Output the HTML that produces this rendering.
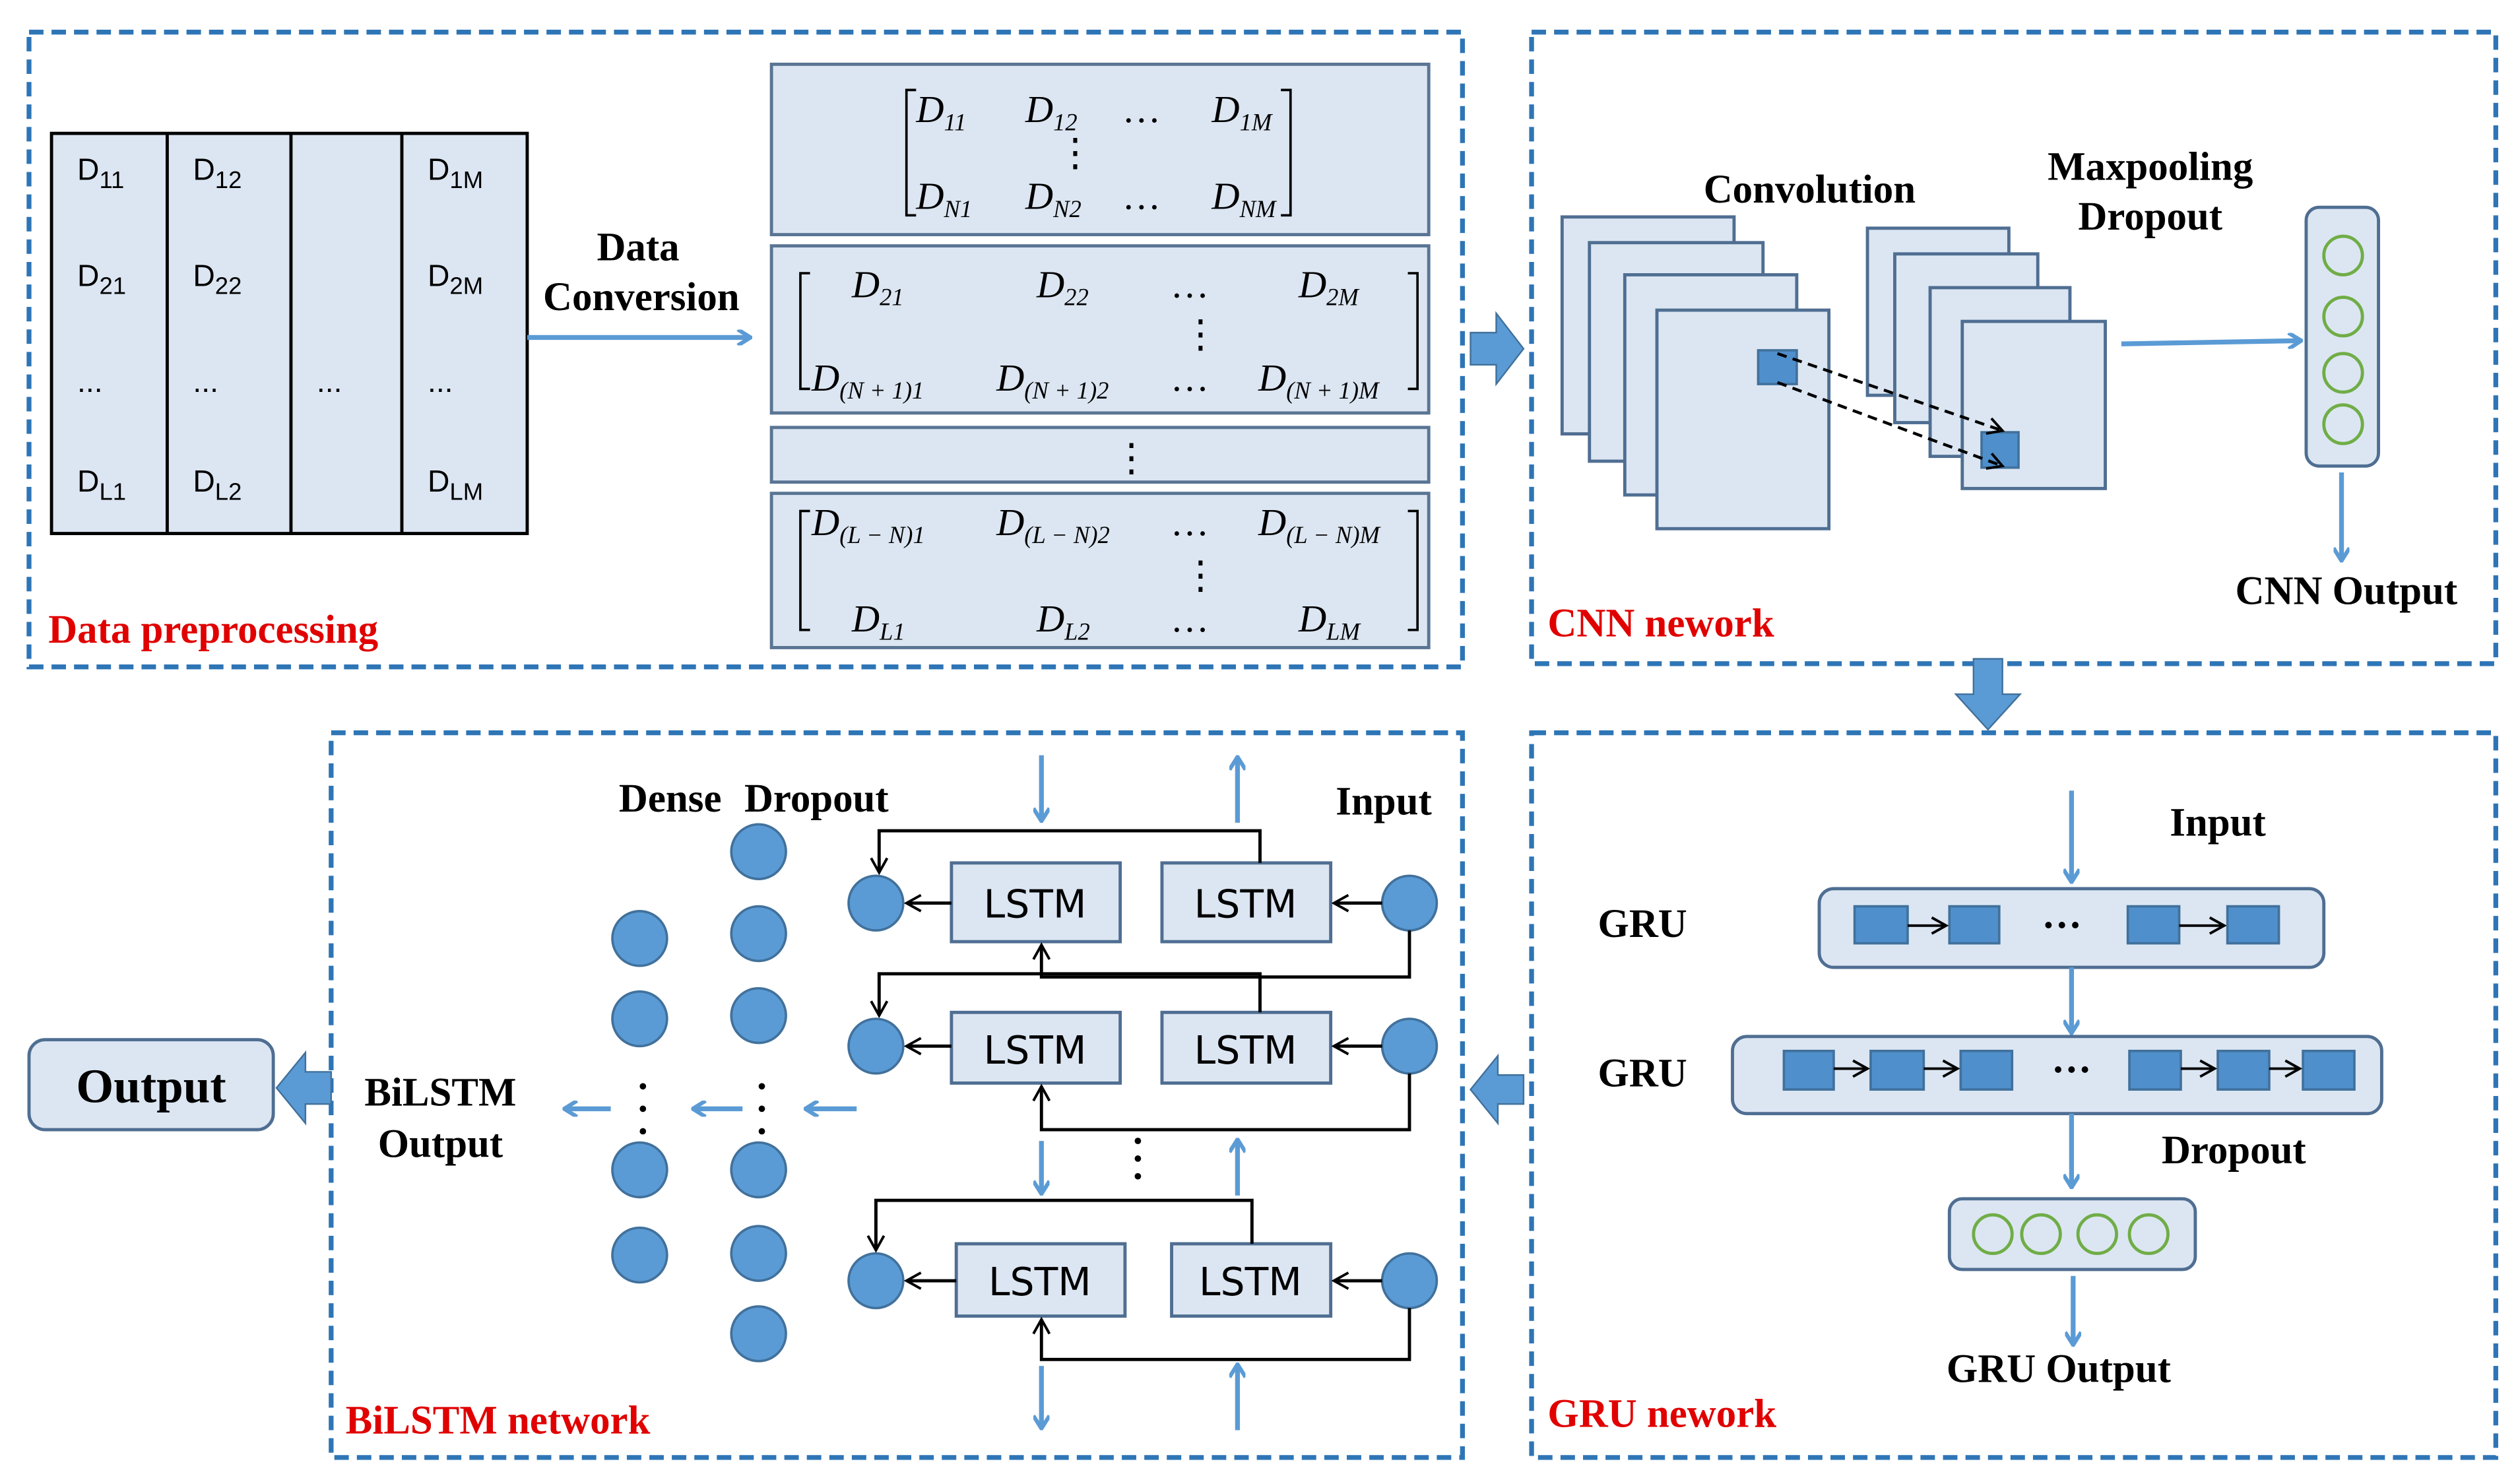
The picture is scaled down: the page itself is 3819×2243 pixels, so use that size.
<!DOCTYPE html>
<html><head><meta charset="utf-8"><style>
html,body{margin:0;padding:0;background:#fff;}
svg{display:block;}
.lb{font-family:"Liberation Serif",serif;font-weight:bold;font-size:25px;fill:#000;}
.red{font-family:"Liberation Serif",serif;font-weight:bold;font-size:25px;fill:#E00000;}
.mx{font-family:"Liberation Serif",serif;font-style:italic;font-size:24px;fill:#000;}
.vd{font-style:normal;}
.sb{font-size:15px;}
.tb{font-family:"Liberation Sans",sans-serif;font-size:19px;fill:#000;}
.ls{font-family:"DejaVu Sans","Liberation Sans",sans-serif;font-size:24px;fill:#000;}
</style></head><body>
<svg width="3819" height="2243" viewBox="0 0 1568 921" xmlns="http://www.w3.org/2000/svg">
<defs>
<marker id="ab" markerWidth="10" markerHeight="10" refX="8" refY="5" orient="auto" markerUnits="userSpaceOnUse"><path d="M1,0 L9,5 L1,10" fill="none" stroke="#5B9BD5" stroke-width="2.5"/></marker>
<marker id="ak" markerWidth="12" markerHeight="12" refX="10" refY="6" orient="auto" markerUnits="userSpaceOnUse"><path d="M1,1 L10,6 L1,11" fill="none" stroke="#000" stroke-width="1.6"/></marker>
</defs>
<rect width="1568" height="921" fill="#fff"/>
<g fill="none" stroke="#2E75B6" stroke-width="3" stroke-dasharray="9,5">
<rect x="18" y="20" width="892" height="395"/>
<rect x="953" y="20" width="600" height="393"/>
<rect x="206" y="456" width="704" height="451"/>
<rect x="953" y="456" width="600" height="451"/>
</g>
<!-- table -->
<rect x="32" y="83" width="296" height="249" fill="#DCE6F2" stroke="#000" stroke-width="2"/>
<g stroke="#000" stroke-width="2"><line x1="104" y1="83" x2="104" y2="332"/><line x1="181" y1="83" x2="181" y2="332"/><line x1="250" y1="83" x2="250" y2="332"/></g>
<g class="tb">
<text x="48" y="112">D<tspan class="sb" dy="5">11</tspan></text><text x="120" y="112">D<tspan class="sb" dy="5">12</tspan></text><text x="266" y="112">D<tspan class="sb" dy="5">1M</tspan></text>
<text x="48" y="178">D<tspan class="sb" dy="5">21</tspan></text><text x="120" y="178">D<tspan class="sb" dy="5">22</tspan></text><text x="266" y="178">D<tspan class="sb" dy="5">2M</tspan></text>
<text x="48" y="244">...</text><text x="120" y="244">...</text><text x="197" y="244">...</text><text x="266" y="244">...</text>
<text x="48" y="306">D<tspan class="sb" dy="5">L1</tspan></text><text x="120" y="306">D<tspan class="sb" dy="5">L2</tspan></text><text x="266" y="306">D<tspan class="sb" dy="5">LM</tspan></text>
</g>
<line x1="328" y1="210" x2="466" y2="210" stroke="#5B9BD5" stroke-width="3" marker-end="url(#ab)"/>
<text class="lb" x="397" y="162" text-anchor="middle">Data</text>
<text class="lb" x="399" y="193" text-anchor="middle">Conversion</text>
<!-- matrices -->
<g fill="#DCE6F2" stroke="#5A7594" stroke-width="2">
<rect x="480" y="40" width="409" height="106"/><rect x="480" y="153" width="409" height="104"/>
<rect x="480" y="266" width="409" height="34"/><rect x="480" y="307" width="409" height="96"/>
</g>
<g fill="none" stroke="#000" stroke-width="1.5">
<path d="M570,56 h-6 v78 h6"/><path d="M797,56 h6 v78 h-6"/>
<path d="M504,170 h-6 v72 h6"/><path d="M876,170 h6 v72 h-6"/>
<path d="M504,318 h-6 v74 h6"/><path d="M876,318 h6 v74 h-6"/>
</g>
<g class="mx">
<text x="570" y="76">D<tspan class="sb" dy="5">11</tspan></text><text x="638" y="76">D<tspan class="sb" dy="5">12</tspan></text><text x="700" y="76">…</text><text x="754" y="76">D<tspan class="sb" dy="5">1M</tspan></text>
<text class="vd" x="657" y="103">⋮</text>
<text x="570" y="130">D<tspan class="sb" dy="5">N1</tspan></text><text x="638" y="130">D<tspan class="sb" dy="5">N2</tspan></text><text x="700" y="130">…</text><text x="754" y="130">D<tspan class="sb" dy="5">NM</tspan></text>
<text x="530" y="185">D<tspan class="sb" dy="5">21</tspan></text><text x="645" y="185">D<tspan class="sb" dy="5">22</tspan></text><text x="730" y="185">…</text><text x="808" y="185">D<tspan class="sb" dy="5">2M</tspan></text>
<text class="vd" x="735" y="216">⋮</text>
<text x="505" y="243">D<tspan class="sb" dy="5">(N + 1)1</tspan></text><text x="620" y="243">D<tspan class="sb" dy="5">(N + 1)2</tspan></text><text x="730" y="243">…</text><text x="783" y="243">D<tspan class="sb" dy="5">(N + 1)M</tspan></text>
<text class="vd" x="692" y="293">⋮</text>
<text x="505" y="333">D<tspan class="sb" dy="5">(L − N)1</tspan></text><text x="620" y="333">D<tspan class="sb" dy="5">(L − N)2</tspan></text><text x="730" y="333">…</text><text x="783" y="333">D<tspan class="sb" dy="5">(L − N)M</tspan></text>
<text class="vd" x="735" y="366">⋮</text>
<text x="530" y="393">D<tspan class="sb" dy="5">L1</tspan></text><text x="645" y="393">D<tspan class="sb" dy="5">L2</tspan></text><text x="730" y="393">…</text><text x="808" y="393">D<tspan class="sb" dy="5">LM</tspan></text>
</g>
<text class="red" x="30" y="400">Data preprocessing</text>
<!-- block arrows -->
<g fill="#5B9BD5" stroke="#41719C" stroke-width="1">
<path d="M915,207 h16 v-12 l17,22 l-17,22 v-12 h-16 z"/>
<path d="M1228,410 h18 v22 h11 l-20,22 l-20,-22 h11 z"/>
<path d="M948,669 h-16 v-12 l-17,21 l17,21 v-12 h16 z"/>
<path d="M206,667 h-16 v-12 l-18,22 l18,22 v-12 h16 z"/>
</g>
<!-- CNN -->
<g fill="#DCE6F2" stroke="#4F6E92" stroke-width="2">
<rect x="972" y="135" width="107" height="135"/><rect x="989" y="151" width="108" height="136"/>
<rect x="1011" y="171" width="107" height="137"/><rect x="1031" y="193" width="107" height="136"/>
<rect x="1162" y="142" width="88" height="104"/><rect x="1179" y="158" width="89" height="105"/>
<rect x="1201" y="179" width="87" height="105"/><rect x="1221" y="200" width="89" height="104"/>
</g>
<rect x="1094" y="218" width="24" height="21" fill="#4F8FCC" stroke="#41719C" stroke-width="1.5"/>
<rect x="1233" y="269" width="23" height="22" fill="#4F8FCC" stroke="#41719C" stroke-width="1.5"/>
<g stroke="#000" stroke-width="1.8" stroke-dasharray="6,4" fill="none">
<line x1="1106" y1="220" x2="1246" y2="268" marker-end="url(#ak)"/>
<line x1="1106" y1="238" x2="1246" y2="290" marker-end="url(#ak)"/>
</g>
<line x1="1320" y1="214" x2="1431" y2="212" stroke="#5B9BD5" stroke-width="3" marker-end="url(#ab)"/>
<rect x="1435" y="129" width="45" height="161" rx="8" fill="#DCE6F2" stroke="#4F6E92" stroke-width="2"/>
<g fill="none" stroke="#70AD47" stroke-width="2"><circle cx="1458" cy="159" r="12"/><circle cx="1458" cy="197" r="12"/><circle cx="1458" cy="232" r="12"/><circle cx="1458" cy="264" r="12"/></g>
<line x1="1457" y1="294" x2="1457" y2="348" stroke="#5B9BD5" stroke-width="3" marker-end="url(#ab)"/>
<text class="lb" x="1126" y="126" text-anchor="middle">Convolution</text>
<text class="lb" x="1338" y="112" text-anchor="middle">Maxpooling</text>
<text class="lb" x="1338" y="143" text-anchor="middle">Dropout</text>
<text class="lb" x="1460" y="376" text-anchor="middle">CNN Output</text>
<text class="red" x="963" y="396">CNN nework</text>
<!-- GRU -->
<line x1="1289" y1="492" x2="1289" y2="548" stroke="#5B9BD5" stroke-width="3" marker-end="url(#ab)"/>
<rect x="1132" y="553" width="314" height="49" rx="9" fill="#DCE6F2" stroke="#4F6E92" stroke-width="2"/>
<g fill="#4F8FCC" stroke="#41719C" stroke-width="1.5">
<rect x="1154" y="564" width="33" height="23"/><rect x="1213" y="564" width="31" height="23"/>
<rect x="1324" y="564" width="32" height="23"/><rect x="1386" y="564" width="32" height="23"/>
</g>
<g stroke="#000" stroke-width="1.6"><line x1="1187" y1="576" x2="1211" y2="576" marker-end="url(#ak)"/><line x1="1356" y1="576" x2="1384" y2="576" marker-end="url(#ak)"/></g>
<text class="lb" x="1283" y="584" text-anchor="middle">···</text>
<line x1="1289" y1="602" x2="1289" y2="642" stroke="#5B9BD5" stroke-width="3" marker-end="url(#ab)"/>
<rect x="1078" y="645" width="404" height="48" rx="9" fill="#DCE6F2" stroke="#4F6E92" stroke-width="2"/>
<g fill="#4F8FCC" stroke="#41719C" stroke-width="1.5">
<rect x="1110" y="654" width="31" height="24"/><rect x="1164" y="654" width="33" height="24"/><rect x="1220" y="654" width="32" height="24"/>
<rect x="1325" y="654" width="32" height="24"/><rect x="1380" y="654" width="32" height="24"/><rect x="1433" y="654" width="32" height="24"/>
</g>
<g stroke="#000" stroke-width="1.6"><line x1="1141" y1="665" x2="1162" y2="665" marker-end="url(#ak)"/><line x1="1197" y1="665" x2="1218" y2="665" marker-end="url(#ak)"/><line x1="1357" y1="665" x2="1378" y2="665" marker-end="url(#ak)"/><line x1="1412" y1="665" x2="1431" y2="665" marker-end="url(#ak)"/></g>
<text class="lb" x="1289" y="674" text-anchor="middle">···</text>
<line x1="1289" y1="693" x2="1289" y2="738" stroke="#5B9BD5" stroke-width="3" marker-end="url(#ab)"/>
<rect x="1213" y="746" width="153" height="44" rx="8" fill="#DCE6F2" stroke="#4F6E92" stroke-width="2"/>
<g fill="none" stroke="#70AD47" stroke-width="2"><circle cx="1240" cy="768" r="12"/><circle cx="1270" cy="768" r="12"/><circle cx="1305" cy="768" r="12"/><circle cx="1337" cy="768" r="12"/></g>
<line x1="1290" y1="794" x2="1290" y2="836" stroke="#5B9BD5" stroke-width="3" marker-end="url(#ab)"/>
<text class="lb" x="1380" y="520" text-anchor="middle">Input</text>
<text class="lb" x="1022" y="583" text-anchor="middle">GRU</text>
<text class="lb" x="1022" y="676" text-anchor="middle">GRU</text>
<text class="lb" x="1390" y="724" text-anchor="middle">Dropout</text>
<text class="lb" x="1281" y="860" text-anchor="middle">GRU Output</text>
<text class="red" x="963" y="888">GRU nework</text>
<!-- BiLSTM -->
<rect x="18" y="647" width="152" height="56" rx="10" fill="#DCE6F2" stroke="#4F6E92" stroke-width="2"/>
<text class="lb" x="94" y="686" text-anchor="middle" style="font-size:30px">Output</text>
<text class="lb" x="274" y="688" text-anchor="middle">BiLSTM</text>
<text class="lb" x="274" y="720" text-anchor="middle">Output</text>
<text class="lb" x="417" y="505" text-anchor="middle">Dense</text>
<text class="lb" x="508" y="505" text-anchor="middle">Dropout</text>
<text class="lb" x="861" y="507" text-anchor="middle">Input</text>
<text class="red" x="215" y="892">BiLSTM network</text>
<g stroke="#5B9BD5" stroke-width="3">
<line x1="380" y1="690" x2="352" y2="690" marker-end="url(#ab)"/>
<line x1="462" y1="690" x2="432" y2="690" marker-end="url(#ab)"/>
<line x1="533" y1="690" x2="502" y2="690" marker-end="url(#ab)"/>
<line x1="648" y1="470" x2="648" y2="510" marker-end="url(#ab)"/>
<line x1="770" y1="512" x2="770" y2="472" marker-end="url(#ab)"/>
<line x1="648" y1="710" x2="648" y2="742" marker-end="url(#ab)"/>
<line x1="770" y1="744" x2="770" y2="710" marker-end="url(#ab)"/>
<line x1="648" y1="850" x2="648" y2="888" marker-end="url(#ab)"/>
<line x1="770" y1="890" x2="770" y2="850" marker-end="url(#ab)"/>
</g>
<g fill="#000"><circle cx="400" cy="676" r="2"/><circle cx="400" cy="690" r="2"/><circle cx="400" cy="704" r="2"/>
<circle cx="474" cy="676" r="2"/><circle cx="474" cy="690" r="2"/><circle cx="474" cy="704" r="2"/>
<circle cx="708" cy="710" r="2"/><circle cx="708" cy="721" r="2"/><circle cx="708" cy="732" r="2"/></g>
<g fill="#5B9BD5" stroke="#41719C" stroke-width="1.5">
<ellipse cx="398" cy="584" rx="17" ry="17"/><ellipse cx="398" cy="634" rx="17" ry="17"/><ellipse cx="398" cy="728" rx="17" ry="17"/><ellipse cx="398" cy="781" rx="17" ry="17"/>
<ellipse cx="472" cy="530" rx="17" ry="17"/><ellipse cx="472" cy="581" rx="17" ry="17"/><ellipse cx="472" cy="632" rx="17" ry="17"/><ellipse cx="472" cy="728" rx="17" ry="17"/><ellipse cx="472" cy="780" rx="17" ry="17"/><ellipse cx="472" cy="830" rx="17" ry="17"/>
<ellipse cx="545" cy="562" rx="17" ry="17"/><ellipse cx="877" cy="562" rx="17" ry="17"/>
<ellipse cx="545" cy="651" rx="17" ry="17"/><ellipse cx="877" cy="651" rx="17" ry="17"/>
<ellipse cx="545" cy="797" rx="17" ry="17"/><ellipse cx="877" cy="797" rx="17" ry="17"/>
</g>
<g fill="#DCE6F2" stroke="#4F6E92" stroke-width="2">
<rect x="592" y="537" width="105" height="49"/><rect x="723" y="537" width="105" height="49"/>
<rect x="592" y="630" width="105" height="44"/><rect x="723" y="630" width="105" height="44"/>
<rect x="595" y="774" width="105" height="45"/><rect x="729" y="774" width="99" height="45"/>
</g>
<g class="ls" text-anchor="middle">
<text x="644" y="571">LSTM</text><text x="775" y="571">LSTM</text>
<text x="644" y="662">LSTM</text><text x="775" y="662">LSTM</text>
<text x="647" y="806">LSTM</text><text x="778" y="806">LSTM</text>
</g>
<g stroke="#000" stroke-width="2" fill="none">
<line x1="592" y1="562" x2="564" y2="562" marker-end="url(#ak)"/><line x1="860" y1="562" x2="830" y2="562" marker-end="url(#ak)"/>
<line x1="592" y1="651" x2="564" y2="651" marker-end="url(#ak)"/><line x1="860" y1="651" x2="830" y2="651" marker-end="url(#ak)"/>
<line x1="595" y1="797" x2="564" y2="797" marker-end="url(#ak)"/><line x1="860" y1="797" x2="830" y2="797" marker-end="url(#ak)"/>
<polyline points="784,537 784,517 547,517 547,543" marker-end="url(#ak)"/>
<polyline points="877,579 877,608 648,608 648,588" marker-end="url(#ak)"/>
<polyline points="784,630 784,606 547,606 547,632" marker-end="url(#ak)"/>
<polyline points="877,668 877,703 648,703 648,676" marker-end="url(#ak)"/>
<polyline points="779,774 779,747 545,747 545,778" marker-end="url(#ak)"/>
<polyline points="877,814 877,846 648,846 648,821" marker-end="url(#ak)"/>
</g>
</svg>
</body></html>
